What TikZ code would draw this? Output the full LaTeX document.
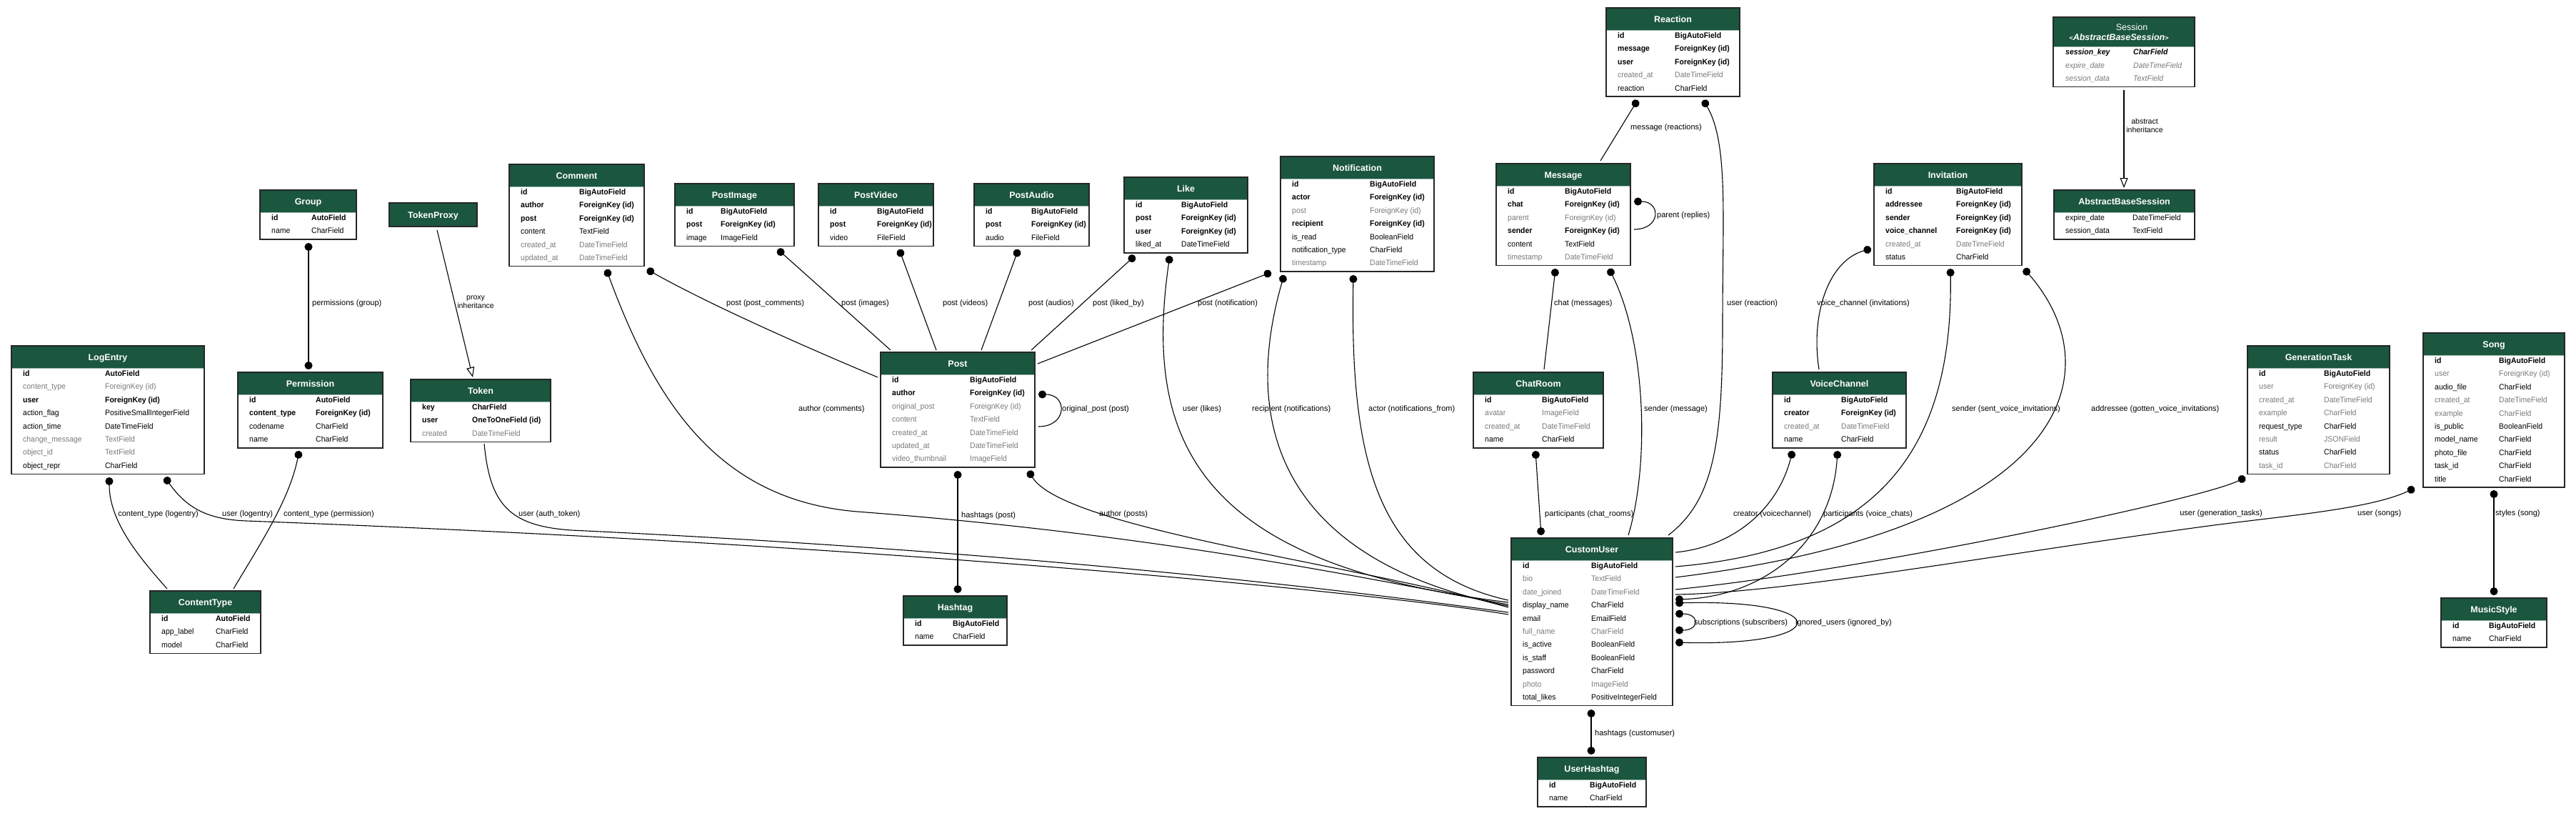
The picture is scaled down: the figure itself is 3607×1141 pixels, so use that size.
\documentclass[tikz,border=0pt]{standalone}
\usepackage{fontspec}
\setmainfont{Liberation Sans}
\newfontfamily\tabfont[FakeStretch=0.95]{Liberation Sans}
\usetikzlibrary{arrows.meta}
\definecolor{hdr}{HTML}{1B563F}
\definecolor{fgray}{HTML}{7B7B7B}
\newcommand\fldB{\color{black}\bfseries}
\newcommand\fldN{\color{black}}
\newcommand\fldG{\color{fgray}}
\newcommand\fldI{\color{fgray}\itshape}
\newcommand\fldBI{\color{black}\bfseries\itshape}
% #1 name #2 left #3 top #4 width #5 type offset #6 rows #7 title #8 list
\newcommand\mktable[8]{%
  \pgfmathsetmacro\tabH{50.5+18.4*(#6-1)}%
  \fill[hdr] (#2,#3) rectangle ({#2+#4},{#3+31});%
  \node[tbox, minimum width=#4pt, minimum height=\tabH pt, anchor=north west] (#1) at (#2,#3) {};%
  \draw[hdrline] ({#2+1},{#3+31}) -- ({#2+#4-1},{#3+31});%
  \node[hdrtext] (#1-title) at ({#2+#4/2},{#3+15.5}) {#7};%
  \foreach \s/\n/\t [count=\i from 0] in {#8} {%
    \pgfmathsetmacro\yy{#3+38.5+18.4*\i}%
    \node[rowtext] (#1-n\i) at ({#2+16},\yy) {\s\n};%
    \node[rowtext] (#1-t\i) at ({#2+#5},\yy) {\s\t};%
  }%
}
\begin{document}
\begin{tikzpicture}[x=1pt,y=-1pt,
  tbox/.style={draw=black!85, line width=1.6pt, inner sep=0pt, outer sep=0pt},
  hdrline/.style={draw=hdr!45!white, line width=0.8pt},
  hdrtext/.style={font=\fontsize{12.5}{14}\selectfont\bfseries, text=white, inner sep=0pt, text height=9pt, text depth=0pt},
  rowtext/.style={font=\tabfont\fontsize{11}{13}\selectfont, inner sep=0pt, anchor=west, text height=7.9pt, text depth=0pt},
  lbl/.style={font=\fontsize{11}{13}\selectfont, inner sep=0pt, anchor=west, text height=8pt, text depth=0pt},
  lbltwo/.style={font=\fontsize{10.5}{12}\selectfont, inner sep=0pt, align=center},
  conn/.style={draw=black, line width=1.1pt},
  fk/.style={conn, {Circle[length=11pt]}-},
  m2m/.style={conn, {Circle[length=11pt]}-{Circle[length=11pt]}},
  inh/.style={conn, -{Triangle[open, length=14pt, width=11pt]}},
  oto/.style={conn}]
\fill[white] (0,0) rectangle (3607,1141);
\useasboundingbox (0,0) rectangle (3607,1141);

% ---------------- tables ----------------
\mktable{LogEntry}{16}{484}{270}{131}{8}{LogEntry}{\fldB/id/AutoField, \fldG/content\_type/ForeignKey (id), \fldB/user/ForeignKey (id), \fldN/action\_flag/PositiveSmallIntegerField, \fldN/action\_time/DateTimeField, \fldG/change\_message/TextField, \fldG/object\_id/TextField, \fldN/object\_repr/CharField}
\mktable{Group}{364}{266}{135}{72}{2}{Group}{\fldB/id/AutoField, \fldN/name/CharField}
\mktable{Token}{575}{531}{196}{86}{3}{Token}{\fldB/key/CharField, \fldB/user/OneToOneField (id), \fldG/created/DateTimeField}
\mktable{Permission}{333}{521}{203}{109}{4}{Permission}{\fldB/id/AutoField, \fldB/content\_type/ForeignKey (id), \fldN/codename/CharField, \fldN/name/CharField}
\mktable{ContentType}{210}{827}{155}{92}{3}{ContentType}{\fldB/id/AutoField, \fldN/app\_label/CharField, \fldN/model/CharField}
\mktable{Comment}{713}{230}{189}{98}{6}{Comment}{\fldB/id/BigAutoField, \fldB/author/ForeignKey (id), \fldB/post/ForeignKey (id), \fldN/content/TextField, \fldG/created\_at/DateTimeField, \fldG/updated\_at/DateTimeField}
\mktable{PostImage}{945}{257}{167}{64}{3}{PostImage}{\fldB/id/BigAutoField, \fldB/post/ForeignKey (id), \fldN/image/ImageField}
\mktable{PostVideo}{1146}{257}{161}{82}{3}{PostVideo}{\fldB/id/BigAutoField, \fldB/post/ForeignKey (id), \fldN/video/FileField}
\mktable{PostAudio}{1364}{257}{161}{80}{3}{PostAudio}{\fldB/id/BigAutoField, \fldB/post/ForeignKey (id), \fldN/audio/FileField}
\mktable{Like}{1574}{248}{173}{80}{4}{Like}{\fldB/id/BigAutoField, \fldB/post/ForeignKey (id), \fldB/user/ForeignKey (id), \fldN/liked\_at/DateTimeField}
\mktable{Notification}{1793}{219}{215}{125}{7}{Notification}{\fldB/id/BigAutoField, \fldB/actor/ForeignKey (id), \fldG/post/ForeignKey (id), \fldB/recipient/ForeignKey (id), \fldN/is\_read/BooleanField, \fldN/notification\_type/CharField, \fldG/timestamp/DateTimeField}
\mktable{Post}{1233}{493}{216}{125}{7}{Post}{\fldB/id/BigAutoField, \fldB/author/ForeignKey (id), \fldG/original\_post/ForeignKey (id), \fldG/content/TextField, \fldG/created\_at/DateTimeField, \fldG/updated\_at/DateTimeField, \fldG/video\_thumbnail/ImageField}
\mktable{Hashtag}{1265}{834}{145}{69}{2}{Hashtag}{\fldB/id/BigAutoField, \fldN/name/CharField}
\mktable{Reaction}{2249}{11}{187}{96}{5}{Reaction}{\fldB/id/BigAutoField, \fldB/message/ForeignKey (id), \fldB/user/ForeignKey (id), \fldG/created\_at/DateTimeField, \fldN/reaction/CharField}
\mktable{Message}{2095}{229}{188}{96}{6}{Message}{\fldB/id/BigAutoField, \fldB/chat/ForeignKey (id), \fldG/parent/ForeignKey (id), \fldB/sender/ForeignKey (id), \fldN/content/TextField, \fldG/timestamp/DateTimeField}
\mktable{ChatRoom}{2063}{521}{182}{96}{4}{ChatRoom}{\fldB/id/BigAutoField, \fldG/avatar/ImageField, \fldG/created\_at/DateTimeField, \fldN/name/CharField}
\mktable{Invitation}{2624}{229}{207}{115}{6}{Invitation}{\fldB/id/BigAutoField, \fldB/addressee/ForeignKey (id), \fldB/sender/ForeignKey (id), \fldB/voice\_channel/ForeignKey (id), \fldG/created\_at/DateTimeField, \fldN/status/CharField}
\mktable{VoiceChannel}{2482}{521}{187}{96}{4}{VoiceChannel}{\fldB/id/BigAutoField, \fldB/creator/ForeignKey (id), \fldG/created\_at/DateTimeField, \fldN/name/CharField}
\mktable{CustomUser}{2116}{753}{226}{112}{11}{CustomUser}{\fldB/id/BigAutoField, \fldG/bio/TextField, \fldG/date\_joined/DateTimeField, \fldN/display\_name/CharField, \fldN/email/EmailField, \fldG/full\_name/CharField, \fldN/is\_active/BooleanField, \fldN/is\_staff/BooleanField, \fldN/password/CharField, \fldG/photo/ImageField, \fldN/total\_likes/PositiveIntegerField}
\mktable{UserHashtag}{2153}{1060}{152}{73}{2}{UserHashtag}{\fldB/id/BigAutoField, \fldN/name/CharField}
\mktable{AbstractBaseSession}{2876}{266}{197}{110}{2}{AbstractBaseSession}{\fldN/expire\_date/DateTimeField, \fldN/session\_data/TextField}
\mktable{GenerationTask}{3147}{484}{199}{107}{8}{GenerationTask}{\fldB/id/BigAutoField, \fldG/user/ForeignKey (id), \fldG/created\_at/DateTimeField, \fldG/example/CharField, \fldN/request\_type/CharField, \fldG/result/JSONField, \fldN/status/CharField, \fldG/task\_id/CharField}
\mktable{Song}{3393}{466}{198}{106}{10}{Song}{\fldB/id/BigAutoField, \fldG/user/ForeignKey (id), \fldN/audio\_file/CharField, \fldG/created\_at/DateTimeField, \fldG/example/CharField, \fldN/is\_public/BooleanField, \fldN/model\_name/CharField, \fldN/photo\_file/CharField, \fldN/task\_id/CharField, \fldN/title/CharField}
\mktable{MusicStyle}{3418}{837}{148}{67}{2}{MusicStyle}{\fldB/id/BigAutoField, \fldN/name/CharField}

% TokenProxy (header only)
\fill[hdr] (545,284) rectangle (668,317);
\node[tbox, minimum width=123pt, minimum height=33pt, anchor=north west] (TokenProxy) at (545,284) {};
\node[hdrtext] (TokenProxy-title) at (606.5,300.5) {TokenProxy};

% Session (two-line header)
\fill[hdr] (2875,24) rectangle (3073,65);
\node[tbox, minimum width=198pt, minimum height=97.3pt, anchor=north west] (Session) at (2875,24) {};
\draw[hdrline] (2876,65) -- (3072,65);
\node[hdrtext, font=\fontsize{12.5}{14}\selectfont] (Session-t1) at (2985,38) {Session};
\node[hdrtext] (Session-t2) at (2967,52) {{\fontsize{9}{10}\selectfont<}\textit{AbstractBaseSession}{\fontsize{9}{10}\selectfont>}};
\node[rowtext] (Session-n0) at (2892,73) {\fldBI session\_key};
\node[rowtext] (Session-t0) at (2987,73) {\fldBI CharField};
\node[rowtext] (Session-n1) at (2892,91.4) {\fldI expire\_date};
\node[rowtext] (Session-t1b) at (2987,91.4) {\fldI DateTimeField};
\node[rowtext] (Session-n2) at (2892,109.8) {\fldI session\_data};
\node[rowtext] (Session-t2b) at (2987,109.8) {\fldI TextField};

% ---------------- connectors ----------------
\draw[m2m] ([shift={(68,74)}]Group.north west) -- ([shift={(99,-4)}]Permission.north west);
\draw[inh] ([shift={(67,38)}]TokenProxy.north west) -- ([shift={(87,-3)}]Token.north west);
\draw[oto] ([shift={(103,90)}]Token.north west) .. controls (686,705) and (712,736) .. (800,742) .. controls (1500,775) and (1950,835) .. ([shift={(-4,104)}]CustomUser.north west);
\draw[fk] ([shift={(215,184)}]LogEntry.north west) .. controls (262,712) and (292,727) .. (345,729) .. controls (1300,765) and (1950,833) .. ([shift={(-4,107)}]CustomUser.north west);
\draw[fk] ([shift={(137,184)}]LogEntry.north west) .. controls (153,730) and (195,780) .. ([shift={(24,-3)}]ContentType.north west);
\draw[fk] ([shift={(86,110)}]Permission.north west) .. controls (405,700) and (365,760) .. ([shift={(117,-3)}]ContentType.north west);
\draw[fk] ([shift={(193,147)}]Comment.north west) .. controls (1000,430) and (1150,495) .. ([shift={(-4,35)}]Post.north west);
\draw[fk] ([shift={(136,147)}]Comment.north west) .. controls (920,570) and (1010,700) .. (1200,716) .. controls (1650,750) and (1950,818) .. ([shift={(-4,93)}]CustomUser.north west);
\draw[fk] ([shift={(144,92)}]PostImage.north west) -- ([shift={(14,-3)}]Post.north west);
\draw[fk] ([shift={(113,92)}]PostVideo.north west) -- ([shift={(78,-3)}]Post.north west);
\draw[fk] ([shift={(62,92)}]PostAudio.north west) -- ([shift={(141,-3)}]Post.north west);
\draw[fk] ([shift={(15,110)}]Like.north west) -- ([shift={(211,-3)}]Post.north west);
\draw[fk] ([shift={(-13,162)}]Notification.north west) -- ([shift={(220,16)}]Post.north west);
\draw[fk] ([shift={(221,59)}]Post.north west) .. controls (1495,552) and (1495,597) .. ([shift={(221,104)}]Post.north west);
\draw[m2m] ([shift={(108,166)}]Post.north west) -- ([shift={(76,-4)}]Hashtag.north west);
\draw[fk] ([shift={(207,166)}]Post.north west) .. controls (1490,740) and (1900,790) .. ([shift={(-4,97)}]CustomUser.north west);
\draw[fk] ([shift={(64,110)}]Like.north west) .. controls (1600,620) and (1680,790) .. ([shift={(-4,90)}]CustomUser.north west);
\draw[fk] ([shift={(5,166)}]Notification.north west) .. controls (1730,620) and (1820,790) .. ([shift={(-4,95)}]CustomUser.north west);
\draw[fk] ([shift={(102,166)}]Notification.north west) .. controls (1890,650) and (1930,800) .. ([shift={(-4,87)}]CustomUser.north west);
\draw[fk] ([shift={(44,129)}]Reaction.north west) -- ([shift={(146,-4)}]Message.north west);
\draw[fk] ([shift={(136,129)}]Reaction.north west) .. controls (2420,200) and (2412,300) .. (2412,450) .. controls (2412,620) and (2400,700) .. ([shift={(220,-4)}]CustomUser.north west);
\draw[fk] ([shift={(193,53)}]Message.north west) .. controls (2326,282) and (2326,321) .. ([shift={(193,92)}]Message.north west);
\draw[fk] ([shift={(83,147)}]Message.north west) -- ([shift={(99,-4)}]ChatRoom.north west);
\draw[fk] ([shift={(158,147)}]Message.north west) .. controls (2305,480) and (2310,650) .. ([shift={(164,-4)}]CustomUser.north west);
\draw[m2m] ([shift={(87,110)}]ChatRoom.north west) -- ([shift={(42,-4)}]CustomUser.north west);
\draw[fk] ([shift={(-4,119)}]Invitation.north west) .. controls (2560,365) and (2535,440) .. ([shift={(65,-4)}]VoiceChannel.north west);
\draw[fk] ([shift={(107,147)}]Invitation.north west) .. controls (2735,640) and (2620,770) .. ([shift={(230,40)}]CustomUser.north west);
\draw[fk] ([shift={(210,147)}]Invitation.north west) .. controls (2960,520) and (2900,740) .. ([shift={(230,55)}]CustomUser.north west);
\draw[fk] ([shift={(28,110)}]VoiceChannel.north west) .. controls (2490,710) and (2430,765) .. ([shift={(230,20)}]CustomUser.north west);
\draw[m2m] ([shift={(91,110)}]VoiceChannel.north west) .. controls (2565,760) and (2470,835) .. ([shift={(230,86)}]CustomUser.north west);
\draw[fk] ([shift={(-3,184)}]GenerationTask.north west) .. controls (3080,700) and (2600,800) .. ([shift={(230,72)}]CustomUser.north west);
\draw[fk] ([shift={(-12,217)}]Song.north west) .. controls (3320,712) and (3200,722) .. (3100,735) .. controls (2800,775) and (2500,830) .. ([shift={(230,79)}]CustomUser.north west);
\draw[m2m] ([shift={(99,220)}]Song.north west) -- ([shift={(74,-4)}]MusicStyle.north west);
\draw[m2m] ([shift={(230,106)}]CustomUser.north west) .. controls (2380,859) and (2380,882) .. ([shift={(230,129)}]CustomUser.north west);
\draw[m2m] ([shift={(230,91)}]CustomUser.north west) .. controls (2570,838) and (2570,905) .. ([shift={(230,146)}]CustomUser.north west);
\draw[m2m] ([shift={(112,240)}]CustomUser.north west) -- ([shift={(75,-4)}]UserHashtag.north west);
\draw[inh] ([shift={(99,102)}]Session.north west) -- ([shift={(98,-3)}]AbstractBaseSession.north west);

% ---------------- labels ----------------
\node[lbl] (l1) at (437,423) {permissions (group)};
\node[lbltwo] (l2) at (666,423) {proxy\\inheritance};
\node[lbl] (l3) at (726,718) {user (auth\_token)};
\node[lbl, anchor=east] (l4) at (278,718) {content\_type (logentry)};
\node[lbl] (l5) at (311,718) {user (logentry)};
\node[lbl] (l6) at (397,718) {content\_type (permission)};
\node[lbl] (l7) at (1017,423) {post (post\_comments)};
\node[lbl] (l8) at (1118,571) {author (comments)};
\node[lbl] (l9) at (1178,423) {post (images)};
\node[lbl] (l10) at (1320,423) {post (videos)};
\node[lbl] (l11) at (1440,423) {post (audios)};
\node[lbl] (l12) at (1530,423) {post (liked\_by)};
\node[lbl] (l13) at (1677,423) {post (notification)};
\node[lbl] (l14) at (1487,571) {original\_post (post)};
\node[lbl] (l15) at (1346,720) {hashtags (post)};
\node[lbl] (l16) at (1539,718) {author (posts)};
\node[lbl] (l17) at (1656,571) {user (likes)};
\node[lbl] (l18) at (1753,571) {recipient (notifications)};
\node[lbl] (l19) at (1916,571) {actor (notifications\_from)};
\node[lbl] (l20) at (2283,177) {message (reactions)};
\node[lbl] (l21) at (2320,300) {parent (replies)};
\node[lbl] (l22) at (2418,423) {user (reaction)};
\node[lbl] (l23) at (2176,423) {chat (messages)};
\node[lbl] (l24) at (2302,571) {sender (message)};
\node[lbl] (l25) at (2163,718) {participants (chat\_rooms)};
\node[lbl] (l26) at (2544,423) {voice\_channel (invitations)};
\node[lbl] (l27) at (2733,571) {sender (sent\_voice\_invitations)};
\node[lbl] (l28) at (2928,571) {addressee (gotten\_voice\_invitations)};
\node[lbl] (l29) at (2427,718) {creator (voicechannel)};
\node[lbl] (l30) at (2553,718) {participants (voice\_chats)};
\node[lbl, anchor=east] (l31) at (3168,717) {user (generation\_tasks)};
\node[lbl] (l32) at (3301,717) {user (songs)};
\node[lbl] (l33) at (3494,717) {styles (song)};
\node[lbl] (l34) at (2372,870) {subscriptions (subscribers)};
\node[lbl] (l35) at (2514,870) {ignored\_users (ignored\_by)};
\node[lbl] (l36) at (2233,1025) {hashtags (customuser)};
\node[lbltwo] (l37) at (3003,176) {abstract\\inheritance};
\end{tikzpicture}
\end{document}
